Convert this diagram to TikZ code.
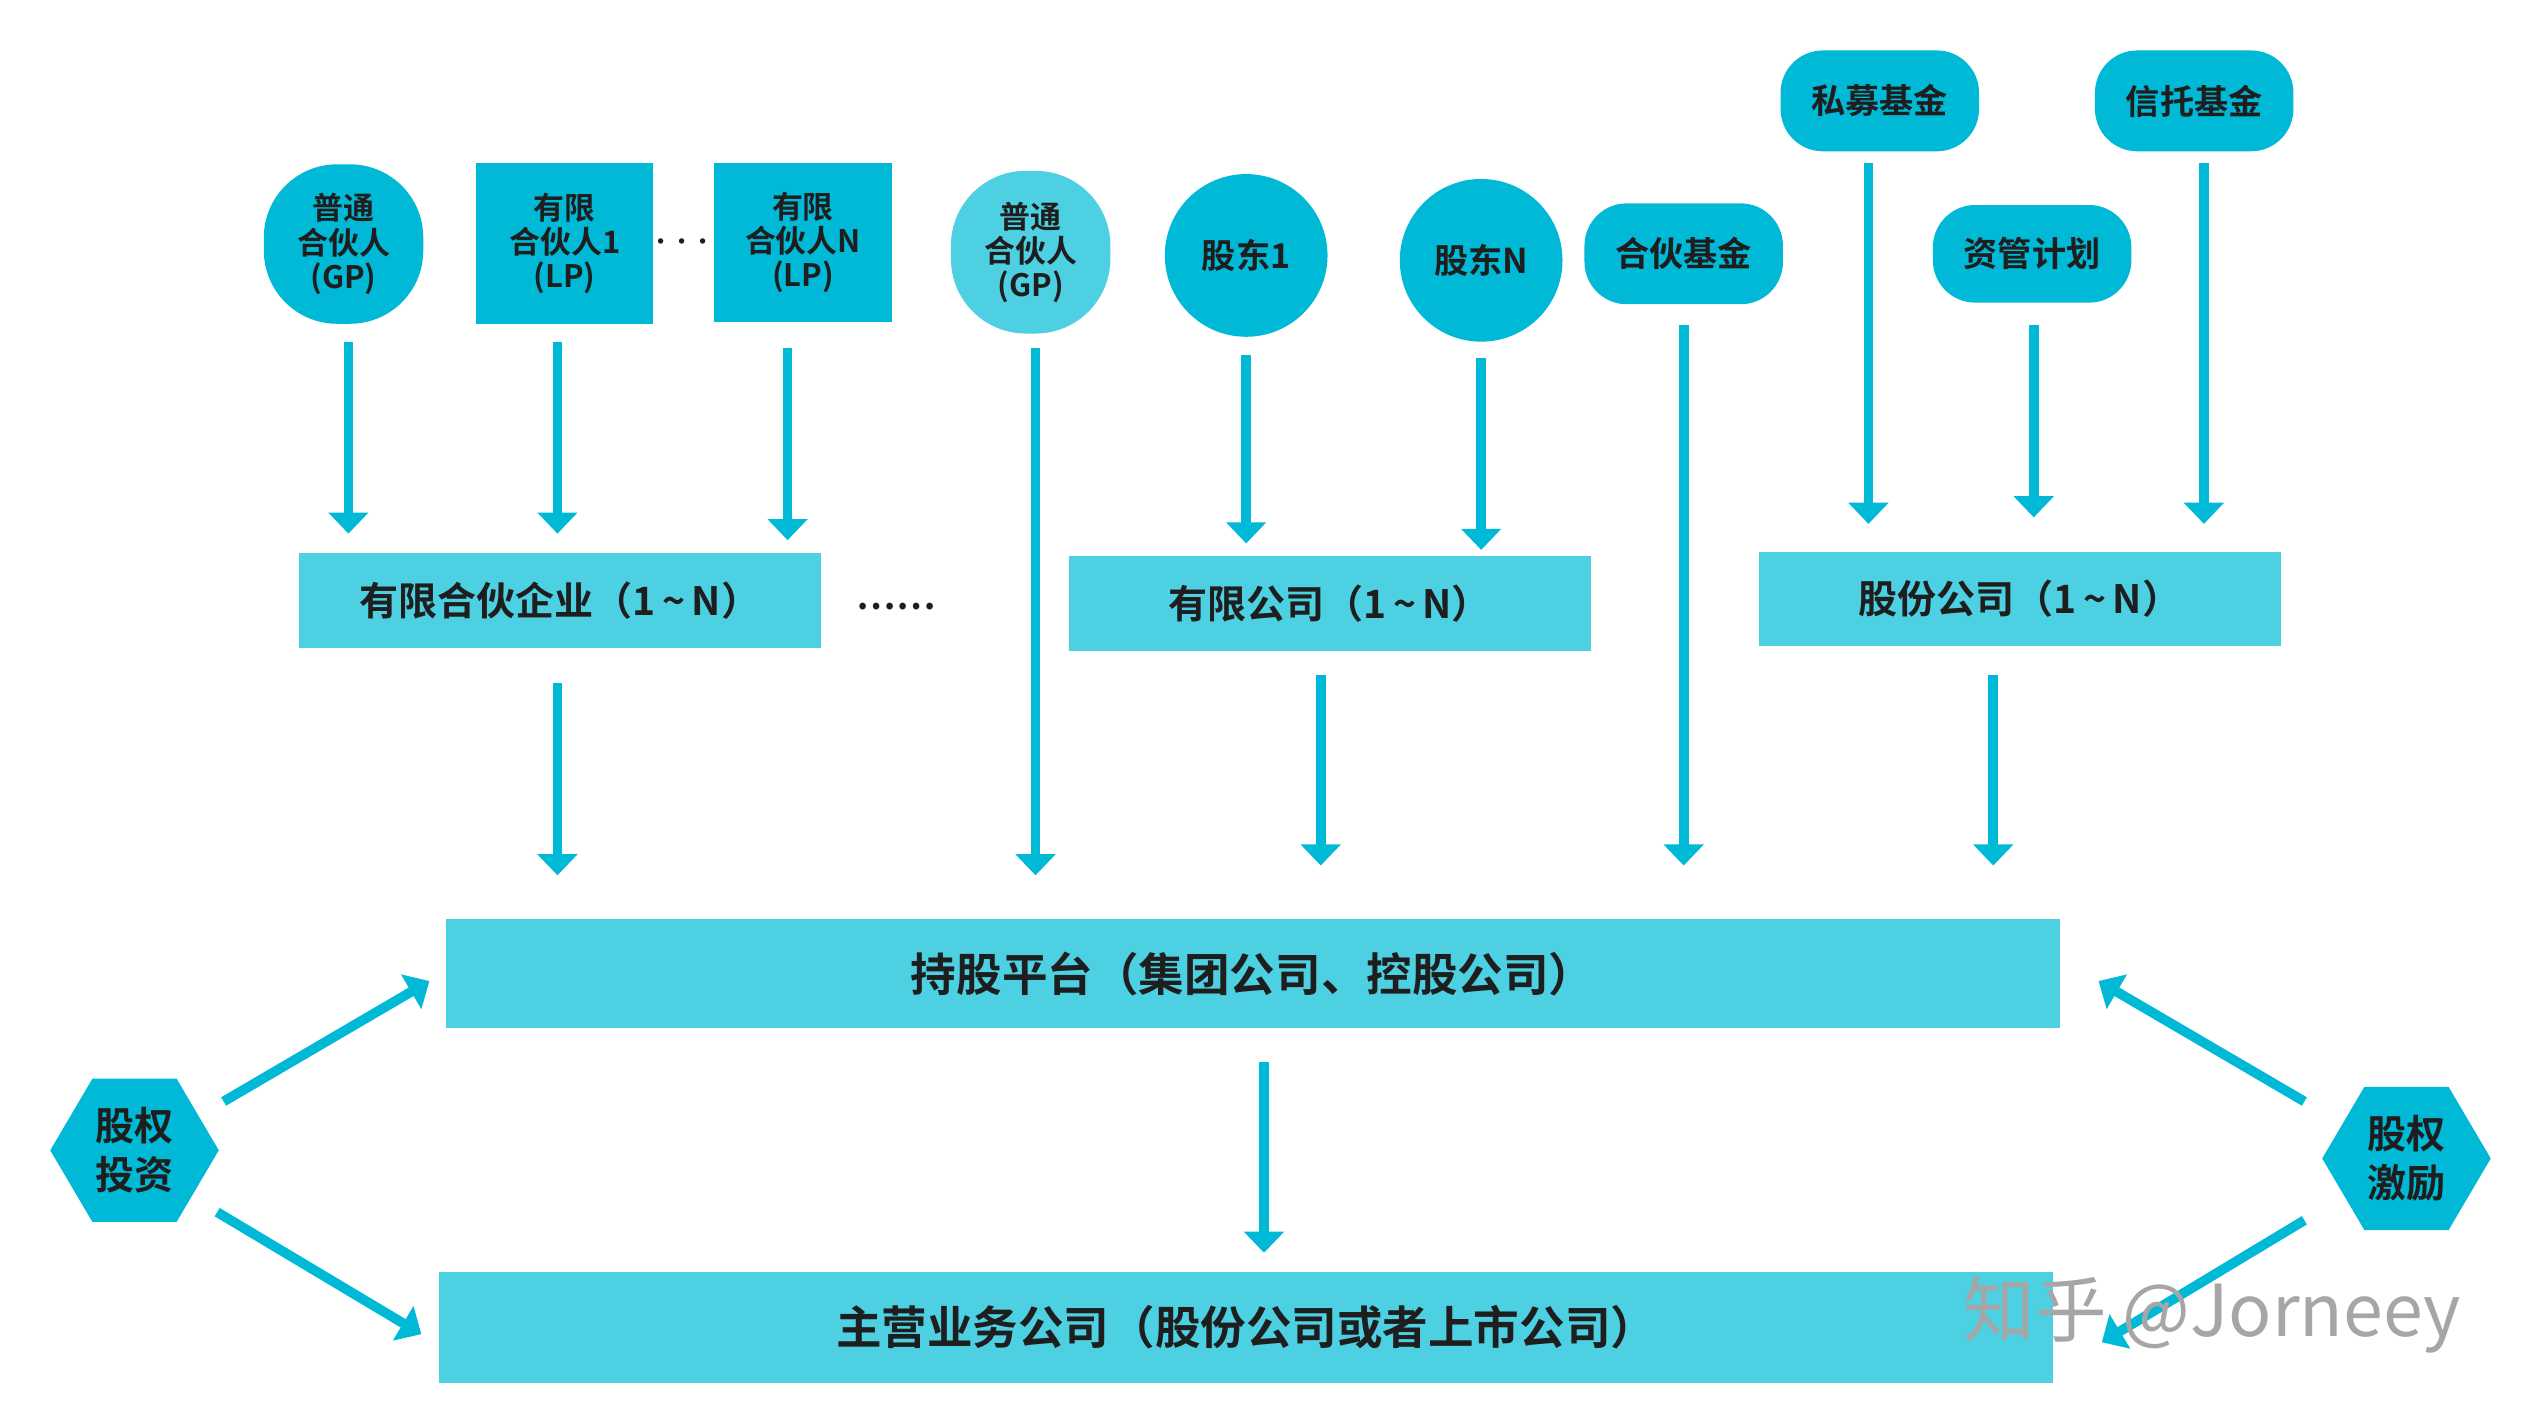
\documentclass[tikz,border=0pt]{standalone}
\usepackage{fontspec}
\setmainfont{Noto Sans CJK SC}[BoldFont={Noto Sans CJK SC Bold}]
\usetikzlibrary{arrows.meta,shapes.geometric}
\definecolor{dk}{HTML}{00B9D6}
\definecolor{lt}{HTML}{4DD0E2}
\definecolor{tx}{HTML}{1E1E1E}
\tikzset{
 dkbox/.style={fill=dk,draw=none,text=tx,font=\bfseries\fontsize{19}{21}\selectfont,align=center,inner sep=0pt},
 ltbox/.style={fill=lt,draw=none,text=tx,font=\bfseries\fontsize{24}{28}\selectfont,align=center,inner sep=0pt},
 arr/.style={draw=dk,line width=6pt,-{Triangle[length=13pt,width=24pt]}},
}
\begin{document}
\begin{tikzpicture}[x=0.996pt,y=-1pt]
\useasboundingbox (0,0) rectangle (1560,877);
% top row
\node[dkbox,rounded corners=45pt,minimum width=98pt,minimum height=98pt] (gp1) at (212,150) {普通\\合伙人\\(GP)};
\node[dkbox,minimum width=109pt,minimum height=99pt] (lp1) at (348.5,149.5) {有限\\合伙人1\\(LP)};
\node[text=tx,font=\bfseries\fontsize{13}{13}\selectfont,inner sep=0pt] (dots1) at (421,150) {···};
\node[dkbox,minimum width=109pt,minimum height=98pt] (lpn) at (495.5,149) {有限\\合伙人N\\(LP)};
\node[dkbox,fill=lt,rounded corners=46pt,minimum width=98pt,minimum height=100pt] (gp2) at (636,155) {普通\\合伙人\\(GP)};
\node[dkbox,circle,minimum size=100pt,font=\bfseries\fontsize{21}{24}\selectfont] (sh1) at (769,157) {股东1};
\node[dkbox,circle,minimum size=100pt,font=\bfseries\fontsize{21}{24}\selectfont] (shn) at (914,160) {股东N};
\node[dkbox,rounded corners=26pt,minimum width=122pt,minimum height=62pt,font=\bfseries\fontsize{21}{24}\selectfont] (hhjj) at (1039,156) {合伙基金};
\node[dkbox,rounded corners=26pt,minimum width=122pt,minimum height=62pt,font=\bfseries\fontsize{21}{24}\selectfont] (smjj) at (1160,62) {私募基金};
\node[dkbox,rounded corners=26pt,minimum width=122pt,minimum height=62pt,font=\bfseries\fontsize{21}{24}\selectfont] (xtjj) at (1354,62) {信托基金};
\node[dkbox,rounded corners=26pt,minimum width=122pt,minimum height=60pt,font=\bfseries\fontsize{21}{24}\selectfont] (zgjh) at (1254,156) {资管计划};
% middle row
\node[ltbox,minimum width=321pt,minimum height=58pt] (yhhh) at (345.5,369) {有限合伙企业（1\,\textasciitilde\,N）};
\node[text=tx,font=\bfseries\fontsize{22}{22}\selectfont] (dots2) at (553,373) {……};
\node[ltbox,minimum width=321pt,minimum height=58pt] (yxgs) at (820.5,371) {有限公司（1\,\textasciitilde\,N）};
\node[ltbox,minimum width=321pt,minimum height=58pt] (gfgs) at (1246.5,368) {股份公司（1\,\textasciitilde\,N）};
% bottom
\node[ltbox,minimum width=992pt,minimum height=67pt,font=\bfseries\fontsize{28}{32}\selectfont] (cgpt) at (773,598.5) {持股平台（集团公司、控股公司）};
\node[ltbox,minimum width=992pt,minimum height=68pt,font=\bfseries\fontsize{28}{32}\selectfont] (zygs) at (769,816) {主营业务公司（股份公司或者上市公司）};
% hexagons
\fill[dk] (31,707) -- (57,663) -- (109,663) -- (135,707) -- (109,751) -- (57,751) -- cycle;
\node[text=tx,font=\bfseries\fontsize{24}{30}\selectfont,align=center] (gqtz) at (83,707) {股权\\投资};
\fill[dk] (1433,712) -- (1459,668) -- (1511,668) -- (1537,712) -- (1511,756) -- (1459,756) -- cycle;
\node[text=tx,font=\bfseries\fontsize{24}{30}\selectfont,align=center] (gqjl) at (1485,712) {股权\\激励};
% arrows
\coordinate (a1) at (215,328); \draw[arr] (215,210) -- (a1);
\coordinate (a2) at (344,328); \draw[arr] (344,210) -- (a2);
\coordinate (a3) at (486,332); \draw[arr] (486,214) -- (a3);
\coordinate (a4) at (639,538); \draw[arr] (639,214) -- (a4);
\coordinate (a5) at (769,334); \draw[arr] (769,218) -- (a5);
\coordinate (a6) at (914,338); \draw[arr] (914,220) -- (a6);
\coordinate (a7) at (1039,532); \draw[arr] (1039,200) -- (a7);
\coordinate (a8) at (1153,322); \draw[arr] (1153,100) -- (a8);
\coordinate (a9) at (1255,318); \draw[arr] (1255,200) -- (a9);
\coordinate (a10) at (1360,322); \draw[arr] (1360,100) -- (a10);
\coordinate (b1) at (344,538); \draw[arr] (344,420) -- (b1);
\coordinate (b2) at (815,532); \draw[arr] (815,415) -- (b2);
\coordinate (b3) at (1230,532); \draw[arr] (1230,415) -- (b3);
\coordinate (c1) at (780,770); \draw[arr] (780,653) -- (c1);
\coordinate (d1) at (265,603); \draw[arr] (138,677) -- (d1);
\coordinate (d2) at (260,820); \draw[arr] (134,745) -- (d2);
\coordinate (d3) at (1295,603); \draw[arr] (1422,677) -- (d3);
\coordinate (d4) at (1297,825); \draw[arr] (1422,750) -- (d4);
% watermark
\node[text=black!35,font=\fontsize{44}{44}\selectfont] (wm) at (1365,808) {知乎 @Jorneey};
\end{tikzpicture}
\end{document}
